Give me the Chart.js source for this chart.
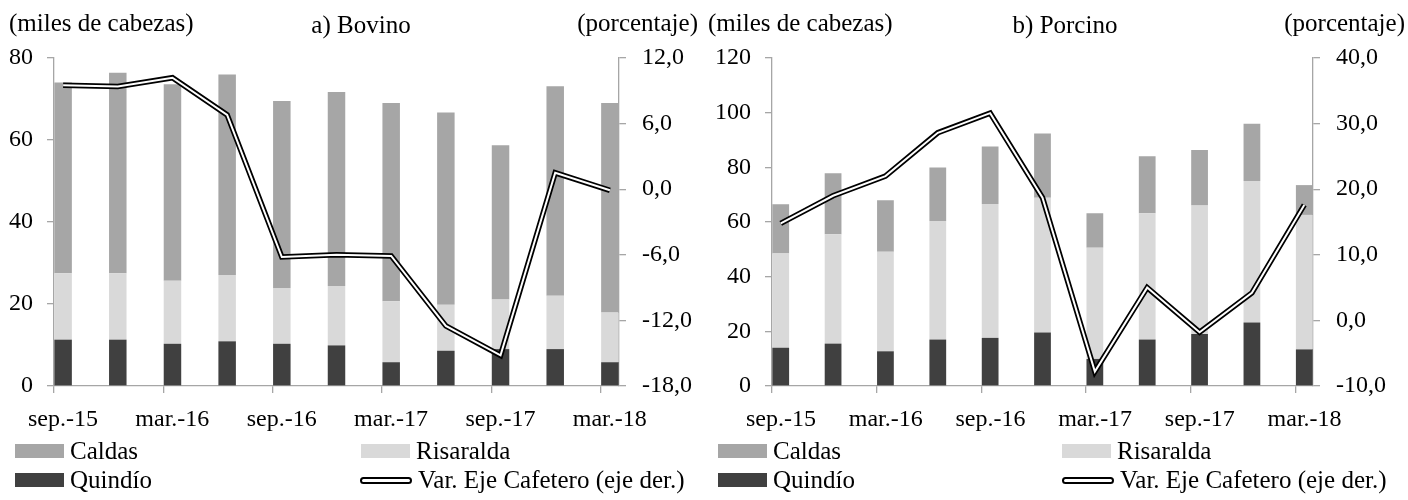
<!DOCTYPE html>
<html>
<head>
<meta charset="utf-8">
<script src="https://cdn.jsdelivr.net/npm/chart.js@4.4.1/dist/chart.umd.min.js"></script>
<style>
    body { margin: 0; background: #fff; }
    #wrap { position: relative; width: 1408px; height: 500px; font-family: "Liberation Serif", "Times New Roman", serif; color: #000; overflow: hidden; }
    canvas { position: absolute; top: 0; }
    .txt { position: absolute; font-size: 25px; line-height: 25px; white-space: nowrap; }
    .item { position: absolute; height: 30px; display: flex; align-items: center; font-size: 25px; line-height: 30px; white-space: nowrap; }
    .sw { width: 49px; height: 14px; margin-right: 6px; }
    .ln { width: 48px; height: 3px; background: #fff; border: 2px solid #000; border-radius: 4px; margin-right: 6px; }
</style>
</head>
<body>
<div id="wrap">
    <canvas id="bovino" width="704" height="440" style="left:0"></canvas>
    <canvas id="porcino" width="704" height="440" style="left:704px"></canvas>

    <div class="txt" style="left:9px;top:10px">(miles de cabezas)</div>
    <div class="txt" style="left:361px;top:12px;transform:translateX(-50%)">a) Bovino</div>
    <div class="txt" style="right:710px;top:10px">(porcentaje)</div>

    <div class="txt" style="left:708px;top:10px">(miles de cabezas)</div>
    <div class="txt" style="left:1065px;top:12px;transform:translateX(-50%)">b) Porcino</div>
    <div class="txt" style="right:3px;top:10px">(porcentaje)</div>

    <div class="item" style="left:15px;top:436px"><div class="sw" style="background:#a6a6a6"></div>Caldas</div>
    <div class="item" style="left:361px;top:436px"><div class="sw" style="background:#d9d9d9"></div>Risaralda</div>
    <div class="item" style="left:15px;top:465px"><div class="sw" style="background:#404040"></div>Quindío</div>
    <div class="item" style="left:360px;top:465px"><div class="ln"></div>Var. Eje Cafetero (eje der.)</div>

    <div class="item" style="left:718px;top:436px"><div class="sw" style="background:#a6a6a6"></div>Caldas</div>
    <div class="item" style="left:1062px;top:436px"><div class="sw" style="background:#d9d9d9"></div>Risaralda</div>
    <div class="item" style="left:718px;top:465px"><div class="sw" style="background:#404040"></div>Quindío</div>
    <div class="item" style="left:1062px;top:465px"><div class="ln"></div>Var. Eje Cafetero (eje der.)</div>
</div>

<script>
// quarterly observations, sep.-15 .. mar.-18
const categories = ['sep.-15', 'dic.-15', 'mar.-16', 'jun.-16', 'sep.-16', 'dic.-16', 'mar.-17', 'jun.-17', 'sep.-17', 'dic.-17', 'mar.-18'];

// a) Bovino (miles de cabezas / porcentaje)
const bovQuindio   = [11.3, 11.3, 10.3, 10.9, 10.3, 9.9, 5.8, 8.6, 9.0, 9.0, 5.8];
const bovRisaralda = [16.2, 16.2, 15.4, 16.2, 13.6, 14.5, 14.9, 11.2, 12.1, 13.0, 12.1];
const bovCaldas    = [46.5, 48.9, 47.9, 48.9, 45.6, 47.3, 48.3, 46.9, 37.6, 51.1, 51.1];
const bovVar       = [9.5, 9.4, 10.2, 6.8, -6.2, -6.0, -6.1, -12.5, -15.2, 1.5, -0.1];

// b) Porcino
const porQuindio   = [14.0, 15.5, 12.7, 17.0, 17.6, 19.6, 9.9, 17.0, 19.0, 23.2, 13.4];
const porRisaralda = [34.5, 40.0, 36.4, 43.4, 49.0, 49.3, 40.7, 46.2, 47.0, 51.8, 49.2];
const porCaldas    = [18.0, 22.3, 18.9, 19.5, 21.0, 23.5, 12.6, 20.9, 20.3, 20.9, 10.9];
const porVar       = [14.8, 19.0, 22.0, 28.6, 31.6, 18.7, -7.8, 5.0, -1.8, 4.2, 17.6];

// axis ranges
const bovLeft  = { min: 0, max: 80, step: 20 };
const bovRight = { min: -18, max: 12, step: 6 };
const porLeft  = { min: 0, max: 120, step: 20 };
const porRight = { min: -10, max: 40, step: 10 };

const AXIS_GREY = '#a6a6a6';
const MONTHS_PER_Q = 3;
const LAST_MONTH = (categories.length - 1) * MONTHS_PER_Q + 1;

Chart.defaults.font.family = '"Liberation Serif", "Times New Roman", serif';
Chart.defaults.font.size = 24;
Chart.defaults.color = '#000';

// month-based x position, bar sits in the middle of its month
const toPoints = arr => arr.map((v, i) => ({ x: i * MONTHS_PER_Q + 0.5, y: v }));
const fmtComma = v => v.toFixed(1).replace('.', ',');

function makePanel(id, series, left, right, dims) {
    const ctx = document.getElementById(id);
    return new Chart(ctx, {
        type: 'bar',
        data: {
            datasets: [
                { type: 'line', label: 'Var. Eje Cafetero (eje der.)', data: toPoints(series.vari), yAxisID: 'y1',
                  borderColor: '#fff', borderWidth: 2, pointRadius: 0, tension: 0, borderJoinStyle: 'miter', order: 0 },
                { type: 'line', label: 'outline', data: toPoints(series.vari), yAxisID: 'y1',
                  borderColor: '#000', borderWidth: 5.5, pointRadius: 0, tension: 0, borderJoinStyle: 'miter', order: 1 },
                { label: 'Quindío', data: toPoints(series.quindio), backgroundColor: '#404040', stack: 's', order: 2 },
                { label: 'Risaralda', data: toPoints(series.risaralda), backgroundColor: '#d9d9d9', stack: 's', order: 3 },
                { label: 'Caldas', data: toPoints(series.caldas), backgroundColor: '#a6a6a6', stack: 's', order: 4 }
            ]
        },
        options: {
            responsive: false,
            animation: false,
            devicePixelRatio: 1,
            categoryPercentage: 1,
            barPercentage: 0.32,
            layout: { padding: { top: 58, left: 0, right: 0, bottom: 0 } },
            plugins: { legend: { display: false }, tooltip: { enabled: false } },
            scales: {
                x: {
                    type: 'linear', min: 0, max: LAST_MONTH, offset: false, stacked: true,
                    border: { color: AXIS_GREY, width: 1.3 },
                    grid: { drawOnChartArea: false, tickLength: 7, color: AXIS_GREY, lineWidth: 1.3, offset: false },
                    ticks: {
                        stepSize: MONTHS_PER_Q * 2, includeBounds: false, autoSkip: false, maxRotation: 0,
                        padding: 12, labelOffset: dims.labelOffset,
                        callback: v => categories[v / MONTHS_PER_Q]
                    },
                    afterFit: s => { s.height = 54; }
                },
                y: {
                    position: 'left', min: left.min, max: left.max, stacked: true,
                    border: { color: AXIS_GREY, width: 1.3 },
                    grid: { drawOnChartArea: false, tickLength: 7, color: AXIS_GREY, lineWidth: 1.3 },
                    ticks: { stepSize: left.step, padding: 14 },
                    afterFit: s => { s.width = dims.leftW; }
                },
                y1: {
                    position: 'right', min: right.min, max: right.max,
                    border: { color: AXIS_GREY, width: 1.3 },
                    grid: { drawOnChartArea: false, tickLength: 7, color: AXIS_GREY, lineWidth: 1.3 },
                    ticks: { stepSize: right.step, padding: 16, callback: fmtComma },
                    afterFit: s => { s.width = dims.rightW; }
                }
            }
        }
    });
}

makePanel('bovino',
    { quindio: bovQuindio, risaralda: bovRisaralda, caldas: bovCaldas, vari: bovVar },
    bovLeft, bovRight, { leftW: 54, rightW: 85, labelOffset: 9 });

makePanel('porcino',
    { quindio: porQuindio, risaralda: porRisaralda, caldas: porCaldas, vari: porVar },
    porLeft, porRight, { leftW: 68, rightW: 95, labelOffset: 9 });
</script>
</body>
</html>
